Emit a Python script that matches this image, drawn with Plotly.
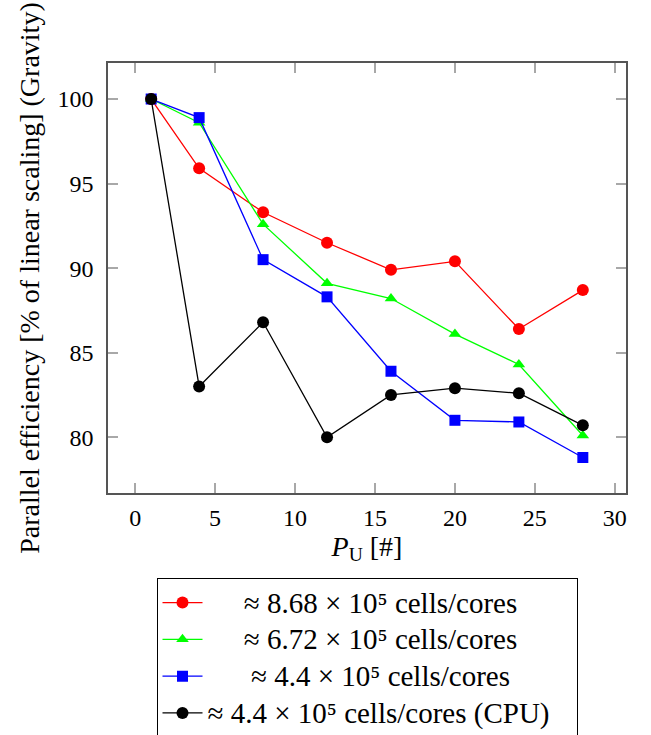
import plotly.graph_objects as go

# Number of processing units
p_units = [1, 4, 8, 12, 16, 20, 24, 28]

# Parallel efficiency (% of linear scaling), gravity solver
eff_868 = [100.0, 95.9, 93.3, 91.5, 89.9, 90.4, 86.4, 88.7]
eff_672 = [100.0, 98.6, 92.6, 89.1, 88.2, 86.1, 84.3, 80.1]
eff_44 = [100.0, 98.9, 90.5, 88.3, 83.9, 81.0, 80.9, 78.8]
eff_44_cpu = [100.0, 83.0, 86.8, 80.0, 82.5, 82.9, 82.6, 80.7]

x_ticks = [0, 5, 10, 15, 20, 25, 30]
y_ticks = [80, 85, 90, 95, 100]

NB = "\u00a0"


def big(s):
    return '<span style="font-size:29px">' + s + "</span>"


series = [
    (eff_868, big(NB * 5 + "≈ 8.68 × 10⁵ cells/cores"), "#ff0000", "circle", 12),
    (eff_672, big(NB * 5 + "≈ 6.72 × 10⁵ cells/cores"), "#00ff00", "triangle-up", 11),
    (eff_44, big(NB * 6 + "≈ 4.4 × 10⁵ cells/cores"), "#0000ff", "square", 11),
    (eff_44_cpu, big("≈ 4.4 × 10⁵ cells/cores (CPU)" + NB * 3), "#000000", "circle", 12),
]

FONT = "Liberation Serif"

fig = go.Figure()
for vals, name, color, symbol, size in series:
    fig.add_trace(go.Scatter(
        x=p_units, y=vals, name=name, mode="lines+markers",
        line=dict(color=color, width=1.3),
        marker=dict(color=color, symbol=symbol, size=size, line=dict(width=0)),
    ))

axis_common = dict(
    ticks="inside", ticklen=10, tickwidth=1.5, tickcolor="#a8a8a8",
    mirror="ticks", showline=True, linecolor="#555555", linewidth=1.5,
    showgrid=False, zeroline=False, automargin=False,
    tickfont=dict(family=FONT, size=24, color="black"),
)

fig.update_xaxes(
    range=[-1.7, 30.7], tickvals=x_ticks, ticklabelstandoff=2,
    title=dict(text="<i>P</i><sub>U</sub> [#]", font=dict(family=FONT, size=28, color="black"), standoff=6),
    **axis_common,
)
fig.update_yaxes(
    range=[76.7, 102.13], tickvals=y_ticks, ticklabelstandoff=8,
    title=dict(text="Parallel efficiency [% of linear scaling] (Gravity)",
               font=dict(family=FONT, size=28, color="black"), standoff=10),
    **axis_common,
)

fig.update_layout(
    width=651, height=735,
    margin=dict(l=108, r=25, t=63, b=242, autoexpand=False),
    paper_bgcolor="white", plot_bgcolor="white",
    font=dict(family=FONT, color="black"),
    legend=dict(
        x=0.5, xanchor="center", y=-0.198, yanchor="top",
        bordercolor="black", borderwidth=1, bgcolor="white",
        font=dict(family=FONT, size=26, color="black"),
        itemwidth=40,
    ),
)

fig.write_html("out.html")
